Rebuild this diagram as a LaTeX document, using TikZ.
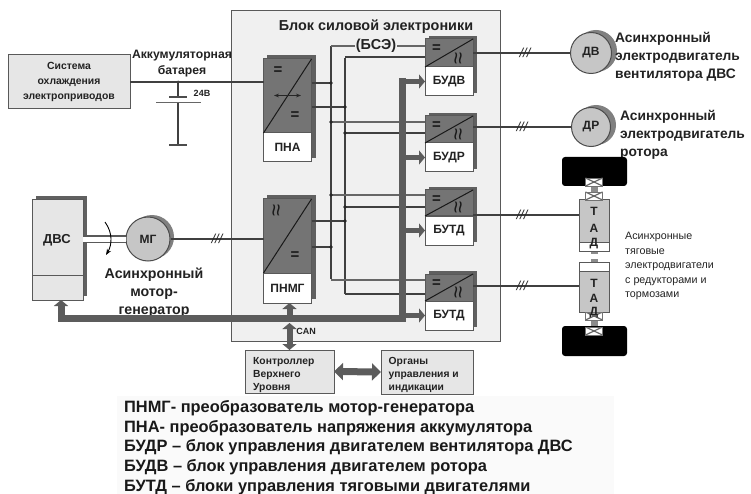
\documentclass[tikz,border=0pt]{standalone}
\usepackage{fontspec}
\setmainfont{Liberation Sans}
\usetikzlibrary{arrows.meta}
\definecolor{panelgray}{HTML}{F0F0F0}
\definecolor{boxgray}{HTML}{E6E6E6}
\definecolor{blockgray}{HTML}{747474}
\definecolor{shadegray}{HTML}{606060}
\definecolor{motorgray}{HTML}{C6C6C6}
\definecolor{busgray}{HTML}{5C5C5C}
\definecolor{inkgray}{HTML}{222222}
\tikzset{
  wire/.style={line width=1.2pt,draw=black!75},
  thin wire/.style={line width=1.1pt,draw=black!60},
  plate/.style={line width=1.6pt,draw=black!70},
  dot/.style={circle,fill=black!85,inner sep=0pt,minimum size=3.6pt},
  frame/.style={draw=black!65,line width=1pt,inner sep=0pt,outer sep=0pt},
  lightbox/.style={frame,fill=boxgray,text=inkgray,font=\bfseries\fontsize{10.4}{15}\selectfont,align=center},
  smallbox/.style={frame,fill=boxgray},
  smalltext/.style={inner sep=0pt,anchor=west,text=inkgray,align=left,font=\bfseries\fontsize{10.3}{12.6}\selectfont},
  blocktop/.style={frame,fill=blockgray},
  blockname/.style={frame,fill=white,text=inkgray,font=\bfseries\fontsize{12}{13}\selectfont},
  sign/.style={inner sep=0pt,text=black!90,font=\bfseries\fontsize{15}{15}\selectfont},
  wave/.style={inner sep=0pt,rotate=90,text=black!90,font=\fontsize{22}{22}\selectfont},
  motor/.style={circle,draw=black!70,line width=1pt,fill=motorgray,inner sep=0pt,minimum size=41pt,
    text=inkgray,font=\bfseries\fontsize{12}{12}\selectfont},
  caption/.style={inner sep=0pt,text=inkgray,font=\bfseries\fontsize{13.8}{18}\selectfont},
  legendline/.style={inner sep=0pt,text=black!90,font=\bfseries\fontsize{16.4}{18}\selectfont},
  note/.style={inner sep=0pt,text=inkgray,font=\bfseries\fontsize{12.2}{16}\selectfont,align=center},
  ticks/.style={inner sep=0pt,text=black!85,font=\itshape\fontsize{13}{13}\selectfont},
  bus/.style={line width=7pt,draw=busgray},
  busarrow/.style={line width=5pt,draw=busgray,-{Triangle[length=6pt,width=14pt]}},
  coupling/.style={draw=black!55,fill=white,line width=.8pt,minimum width=17pt,minimum height=8pt,inner sep=0pt,
    path picture={\draw[black!60,line width=1.2pt] (path picture bounding box.north west) -- (path picture bounding box.south east)
      (path picture bounding box.south west) -- (path picture bounding box.north east);}},
  tadletter/.style={inner sep=0pt,text=inkgray,font=\bfseries\fontsize{12}{12}\selectfont},
}
\begin{document}
\begin{tikzpicture}[x=1pt,y=-1pt]
\useasboundingbox (0,0) rectangle (751,494);
\fill[black!2] (117,396) rectangle (614,494);
\node[frame,fill=panelgray,minimum width=269pt,minimum height=330pt] (panel) at (366,176) {};
\node[note,font=\bfseries\fontsize{14.4}{15}\selectfont] (paneltitle) at (376,27) {Блок силовой электроники};

\node[lightbox,minimum width=122pt,minimum height=54pt] (cool) at (69,82) {Система\\охлаждения\\электроприводов};
\node[note] (batname) at (182,64) {Аккумуляторная\\батарея};
\node[inner sep=0pt,text=inkgray,font=\bfseries\fontsize{9}{10}\selectfont] (volt) at (202,93.5) {24В};
\coordinate (batjoin) at (178,82);
\coordinate (plateA) at (178,97);
\coordinate (plateB) at (178,103);
\coordinate (plateC) at (178,145);
\draw[wire] (batjoin) -- (plateA);
\draw[wire] (plateB) -- (plateC);
\draw[plate] (169,97) -- (187,97);
\draw[line width=1pt,draw=black!60] (156,103) -- (201,103);
\draw[plate] (169,145) -- (187,145);
\node[dot,minimum size=3pt] (batdot) at (batjoin) {};

\coordinate (busA) at (331,46);
\coordinate (busAend) at (331,279);
\coordinate (busB) at (345,58);
\coordinate (busBend) at (345,294);
\draw[wire] (busA) -- (busAend);
\draw[wire] (busB) -- (busBend);

\foreach \n/\lab/\t/\m/\b in {pna/ПНА/59/133/162,pnmg/ПНМГ/199/273/303}{
  \fill[shadegray] (267,\t-4) rectangle (315.5,\b-4);
  \node[blocktop,minimum width=48pt,minimum height={(\m-\t)*1pt},anchor=north west] (\n top) at (263.5,\t) {};
  \node[blockname,minimum width=48pt,minimum height={(\b-\m)*1pt},anchor=north west] (\n) at (263.5,\m) {\lab};
  \draw[line width=1pt,draw=black!90] (\n top.south west) -- (\n top.north east);
}
\foreach \n/\lab/\t/\m/\b in {budv/БУДВ/39/67/96,budr/БУДР/116/143/172,butda/БУТД/190/216/245,butdb/БУТД/274/301/330}{
  \fill[shadegray] (429,\t-3) rectangle (477,\b-3);
  \node[blocktop,minimum width=48pt,minimum height={(\m-\t)*1pt},anchor=north west] (\n top) at (425,\t) {};
  \node[blockname,minimum width=48pt,minimum height={(\b-\m)*1pt},anchor=north west] (\n) at (425,\m) {\lab};
  \draw[line width=1pt,draw=black!90] (\n top.south west) -- (\n top.north east);
  \node[sign] (\n dc) at (436.5,\t+10) {=};
  \node[wave] (\n ac) at (460,\m-9) {≈};
}
\node[sign] (pnadca) at (278,71) {=};
\node[sign] (pnadcb) at (295,116) {=};
\draw[line width=1pt,draw=black!85,{Stealth[length=5pt]}-{Stealth[length=5pt]}] (274,95.5) -- (301,95.5);
\node[wave] (pnmgac) at (278,210) {≈};
\node[sign] (pnmgdc) at (295,256) {=};

\draw[wire] (cool.east) -- (cool.east -| pnatop.west);
\foreach \n/\ya/\yb in {budv/46/57,budr/122/133,butda/195/207,butdb/280/294}{
  \draw[thin wire] (busA |- 0,\ya) -- (\n top.west |- 0,\ya);
  \draw[wire] (busB |- 0,\yb) -- (\n top.west |- 0,\yb);
}
\node[note,fill=panelgray,inner xsep=1pt,inner ysep=0pt,font=\bfseries\fontsize{14.4}{15}\selectfont] (bse) at (376,46) {(БСЭ)};

\draw[wire] (pnatop.east |- 0,83) -- (busA |- 0,83);
\draw[wire] (pnatop.east |- 0,107) -- (busB |- 0,107);
\draw[wire] (pnmgtop.east |- 0,221) -- (busB |- 0,221);
\draw[wire] (pnmgtop.east |- 0,247) -- (busA |- 0,247);
\foreach \x/\y [count=\i] in {331/83,345/107,331/122,345/133,331/195,345/207,345/221,331/247}{
  \node[dot] (tap\i) at (\x,\y) {};
}

\fill[shadegray] (36,196) rectangle (87,296);
\node[frame,fill=boxgray,minimum width=51pt,minimum height=100pt] (dvs) at (57.5,250) {};
\draw[line width=1pt,draw=black!65] (dvs.west |- 0,275) -- (dvs.east |- 0,275);
\node[tadletter,font=\bfseries\fontsize{13}{13}\selectfont] (dvsname) at (57,240) {ДВС};

\fill[black!50] (152,237) circle (22);
\node[motor,minimum size=44pt] (mg) at (148,239) {МГ};
\draw[line width=1.2pt,draw=black!65,double=white,double distance=5pt] (dvs.east |- mg.west) -- (mg.west);
\draw[line width=.9pt,-{Stealth[length=6pt]}] (105,222) .. controls (113,233) and (112,245) .. (106,255);
\node[note,font=\bfseries\fontsize{14.2}{18}\selectfont] (mgname) at (154,293) {Асинхронный\\мотор-\\генератор};
\draw[wire] (mg.east) -- (mg.east -| pnmgtop.west);
\node[ticks] (tickmg) at (mg.east -| 217,0) {///};

\fill[black!50] (596,51) circle (21);
\fill[black!50] (596,125) circle (20);
\node[motor,minimum size=41pt] (dv) at (591,53) {ДВ};
\node[motor,minimum size=39pt] (dr) at (591,127) {ДР};
\node[caption,anchor=west,align=left] (dvname) at (615,57) {Асинхронный\\электродвигатель\\вентилятора ДВС};
\node[caption,anchor=west,align=left] (drname) at (620,134.5) {Асинхронный\\электродвигатель\\ротора};
\draw[wire] (budvtop.east |- dv.west) -- (dv.west);
\draw[wire] (budrtop.east |- dr.west) -- (dr.west);

\fill[black,rounded corners=3pt] (562,157) rectangle (627,186);
\fill[black,rounded corners=3pt] (562,326) rectangle (627,356);
\fill[black!45] (591,185) rectangle (598,200);
\fill[black!45] (591,251) rectangle (598,254);
\fill[black!45] (591,259) rectangle (598,262);
\fill[black!45] (591,312) rectangle (598,326);
\node[frame,fill=white,minimum width=30pt,minimum height=9pt,anchor=north] (whitea) at (594,242) {};
\node[frame,fill=motorgray,minimum width=30pt,minimum height=42pt,anchor=south] (tada) at (594,242) {};
\node[frame,fill=white,minimum width=30pt,minimum height=9pt,anchor=south] (whiteb) at (594,271) {};
\node[frame,fill=motorgray,minimum width=30pt,minimum height=41pt,anchor=north] (tadb) at (594,271) {};
\foreach \y [count=\i] in {182,196,316,331}{
  \node[coupling] (joint\i) at (594,\y) {};
}
\foreach \t/\y [count=\i] in {Т/211,А/228,Д/244,Т/283,А/298,Д/313}{
  \node[tadletter] (tad\i) at (594,\y) {\t};
}
\draw[wire] (butdatop.east |- 0,215) -- (tada.west |- 0,215);
\draw[wire] (butdbtop.east |- 0,286) -- (tadb.west |- 0,286);
\foreach \x/\y [count=\i] in {525/53,522/127,522/215,522/286}{
  \node[ticks] (tick\i) at (\x,\y) {///};
}
\node[inner sep=0pt,anchor=north west,text=inkgray,align=left,font=\fontsize{10.7}{14.6}\selectfont] (tadnote) at (625,232) {Асинхронные\\тяговые\\электродвигатели\\с редукторами и\\тормозами};

\coordinate (buscorner) at (402,318);
\coordinate (bustop) at (402,78);
\coordinate (dvstap) at (61,318);
\draw[bus,-{Triangle[length=6pt,width=14pt]}] (bustop) -- (buscorner) -- (dvstap) -- (dvs.south -| dvstap);
\foreach \n in {budv,budr,butda,butdb}{
  \draw[busarrow] (bustop |- \n.west) -- (\n.west);
}

\node[smallbox,minimum width=89pt,minimum height=43pt] (ctrl) at (289.5,371.5) {};
\node[smalltext] (ctrltext) at (253,375) {Контроллер\\Верхнего\\Уровня};
\node[smallbox,minimum width=92pt,minimum height=44pt] (org) at (427,372) {};
\node[smalltext] (orgtext) at (388.5,375) {Органы\\управления и\\индикации};
\draw[bus,draw=busgray,{Triangle[length=9pt,width=17pt]}-{Triangle[length=9pt,width=17pt]}] (ctrl.east) -- (org.west);
\draw[busarrow,line width=6pt] (ctrl.north |- buscorner) -- (ctrl.north |- pnmg.south);
\draw[bus,line width=6pt,{Triangle[length=6pt,width=14pt]}-{Triangle[length=6pt,width=14pt]}] (ctrl.north |- 0,323) -- (ctrl.north);
\node[inner sep=0pt,text=inkgray,font=\bfseries\fontsize{9}{10}\selectfont] (can) at (306,331.5) {CAN};

\foreach \t [count=\i] in {ПНМГ- преобразователь мотор-генератора,ПНА- преобразователь напряжения аккумулятора,БУДР – блок управления двигателем вентилятора ДВС,БУДВ – блок управления двигателем ротора,БУТД – блоки управления тяговыми двигателями}{
  \node[legendline,anchor=base west] (legend\i) at (124,392.5+\i*19.8) {\t};
}
\end{tikzpicture}
\end{document}
